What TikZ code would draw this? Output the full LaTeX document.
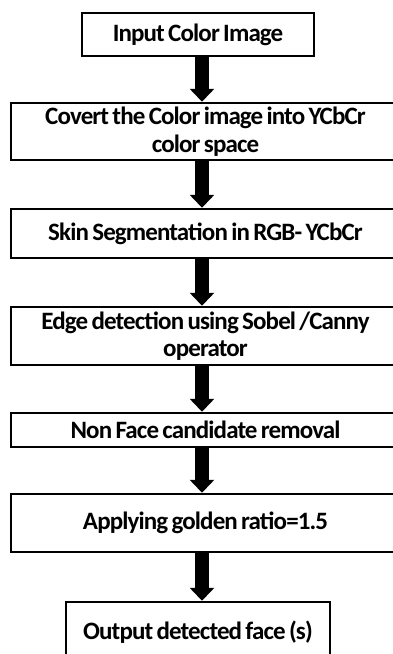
\documentclass[tikz,border=0pt]{standalone}
\usepackage{fontspec}
\setmainfont{Carlito}[LetterSpace=-3.5,WordSpace=0.7]
\usetikzlibrary{arrows.meta}
\begin{document}
\begin{tikzpicture}[x=1pt,y=-1pt,
  box/.style={draw=black, line width=2.5pt, fill=white, inner sep=0pt, align=center,
    font=\bfseries\fontsize{25}{27.5}\selectfont},
  wide/.style={box, minimum width=389pt},
  flow/.style={line width=14pt, -{Triangle[width=24pt,length=13pt]}}]
\useasboundingbox (0,0) rectangle (393,654);
\clip (0,0) rectangle (393,654);
\node[box, minimum width=232pt, minimum height=43pt] (b1) at (198,34.5) {Input Color Image};
\node[wide, minimum height=57pt] (b2) at (205.5,131.5) {Covert the Color image into YCbCr\\color space};
\node[wide, minimum height=49pt] (b3) at (205.5,233.5) {Skin Segmentation in RGB- YCbCr};
\node[wide, minimum height=58pt] (b4) at (205.5,336) {Edge detection using Sobel /Canny\\operator};
\node[wide, minimum height=34pt] (b5) at (205.5,430) {Non Face candidate removal};
\node[wide, minimum height=58pt] (b6) at (205.5,523) {Applying golden ratio=1.5};
\node[box, minimum width=264pt, minimum height=60pt] (b7) at (198,632) {Output detected face (s)};
\coordinate (ax) at (202,0);
\draw[flow] (b1.south -| ax) -- (b2.north -| ax);
\draw[flow] (b2.south -| ax) -- (b3.north -| ax);
\draw[flow] (b3.south -| ax) -- (b4.north -| ax);
\draw[flow] (b4.south -| ax) -- (b5.north -| ax);
\draw[flow] (b5.south -| ax) -- (b6.north -| ax);
\draw[flow] (b6.south -| ax) -- (b7.north -| ax);
\end{tikzpicture}
\end{document}
